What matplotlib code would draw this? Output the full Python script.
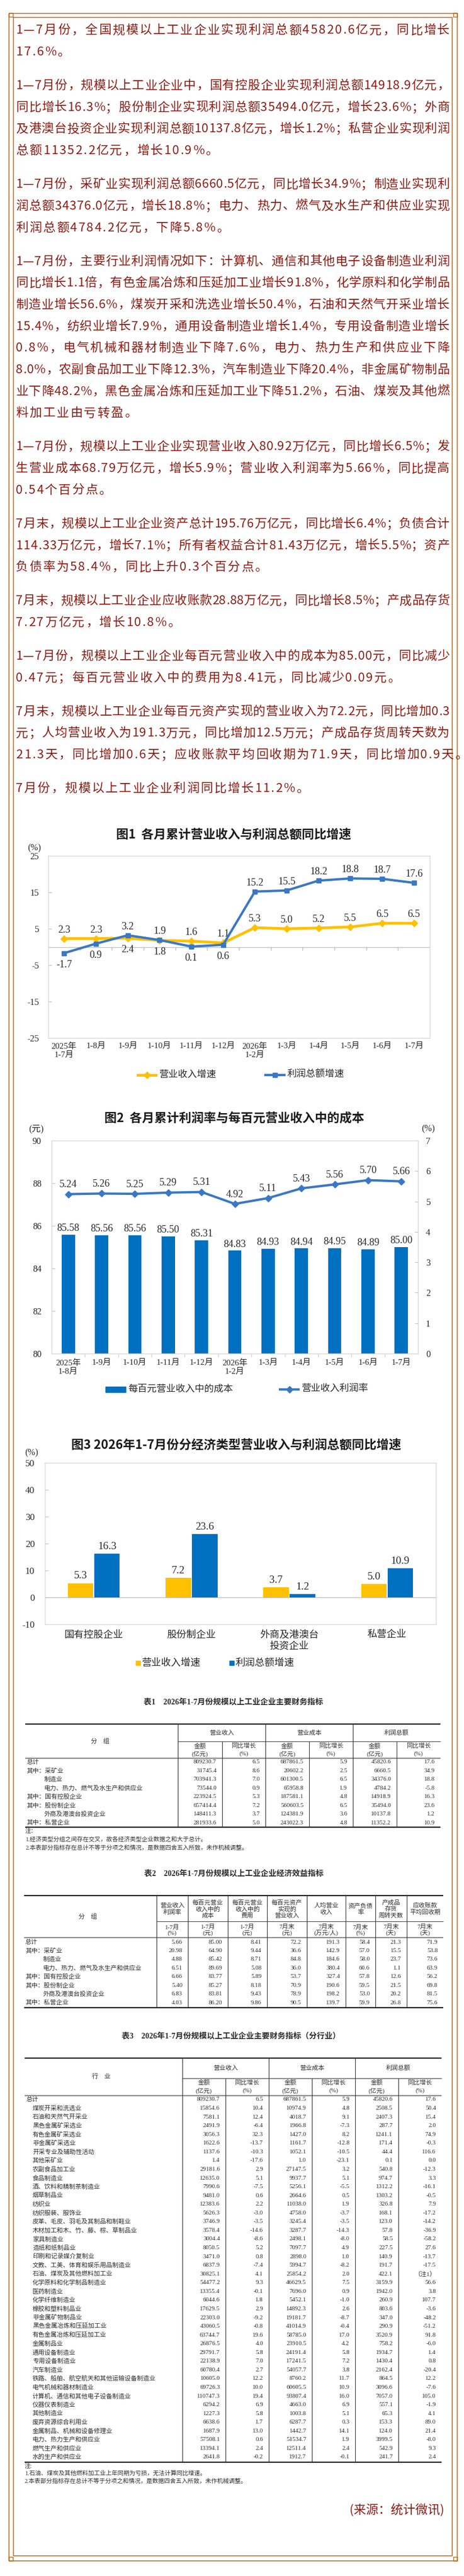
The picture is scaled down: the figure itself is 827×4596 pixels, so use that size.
import numpy as np
import matplotlib
matplotlib.use('Agg')
import matplotlib.pyplot as plt
from matplotlib import font_manager as fm
from matplotlib.font_manager import FontProperties
from matplotlib.patches import Rectangle

W, H, DPI = 827, 4596, 100
PT = 72 / DPI  # points per pixel

SERIF = ['Liberation Serif', 'Noto Sans CJK SC', 'DejaVu Sans']
CJK = ['Noto Sans CJK SC', 'DejaVu Sans']
plt.rcParams['font.family'] = SERIF
plt.rcParams['axes.unicode_minus'] = False

TXT_C = '#8C1C13'
FRAME_C = '#B8671F'
YEL = '#FFC000'
BLU = '#0070C0'
BLU_L = '#3A78C3'
BOX_C = '#D9D9D9'
AX_C = '#BFBFBF'
LBL_C = '#262626'
TBL_C = '#2b2b2b'

# ---------------- article text ----------------
paragraphs = [
    ["1—7月份，全国规模以上工业企业实现利润总额45820.6亿元，同比增长",
     "17.6%。"],
    ["1—7月份，规模以上工业企业中，国有控股企业实现利润总额14918.9亿元，",
     "同比增长16.3%；股份制企业实现利润总额35494.0亿元，增长23.6%；外商",
     "及港澳台投资企业实现利润总额10137.8亿元，增长1.2%；私营企业实现利润",
     "总额11352.2亿元，增长10.9%。"],
    ["1—7月份，采矿业实现利润总额6660.5亿元，同比增长34.9%；制造业实现利",
     "润总额34376.0亿元，增长18.8%；电力、热力、燃气及水生产和供应业实现",
     "利润总额4784.2亿元，下降5.8%。"],
    ["1—7月份，主要行业利润情况如下：计算机、通信和其他电子设备制造业利润",
     "同比增长1.1倍，有色金属冶炼和压延加工业增长91.8%，化学原料和化学制品",
     "制造业增长56.6%，煤炭开采和洗选业增长50.4%，石油和天然气开采业增长",
     "15.4%，纺织业增长7.9%，通用设备制造业增长1.4%，专用设备制造业增长",
     "0.8%，电气机械和器材制造业下降7.6%，电力、热力生产和供应业下降",
     "8.0%，农副食品加工业下降12.3%，汽车制造业下降20.4%，非金属矿物制品",
     "业下降48.2%，黑色金属冶炼和压延加工业下降51.2%，石油、煤炭及其他燃",
     "料加工业由亏转盈。"],
    ["1—7月份，规模以上工业企业实现营业收入80.92万亿元，同比增长6.5%；发",
     "生营业成本68.79万亿元，增长5.9%；营业收入利润率为5.66%，同比提高",
     "0.54个百分点。"],
    ["7月末，规模以上工业企业资产总计195.76万亿元，同比增长6.4%；负债合计",
     "114.33万亿元，增长7.1%；所有者权益合计81.43万亿元，增长5.5%；资产",
     "负债率为58.4%，同比上升0.3个百分点。"],
    ["7月末，规模以上工业企业应收账款28.88万亿元，同比增长8.5%；产成品存货",
     "7.27万亿元，增长10.8%。"],
    ["1—7月份，规模以上工业企业每百元营业收入中的成本为85.00元，同比减少",
     "0.47元；每百元营业收入中的费用为8.41元，同比减少0.09元。"],
    ["7月末，规模以上工业企业每百元资产实现的营业收入为72.2元，同比增加0.3",
     "元；人均营业收入为191.3万元，同比增加12.5万元；产成品存货周转天数为",
     "21.3天，同比增加0.6天；应收账款平均回收期为71.9天，同比增加0.9天。"],
    ["7月份，规模以上工业企业利润同比增长11.2%。"],
]
source_text = "(来源：统计微讯)"

# ---------------- chart 1 ----------------
chart1_title = "图1  各月累计营业收入与利润总额同比增速"
months1 = ['2025年\n1-7月', '1-8月', '1-9月', '1-10月', '1-11月', '1-12月',
           '2026年\n1-2月', '1-3月', '1-4月', '1-5月', '1-6月', '1-7月']
rev_growth = [2.3, 2.3, 2.4, 1.8, 1.6, 1.1, 5.3, 5.0, 5.2, 5.5, 6.5, 6.5]
profit_growth = [-1.7, 0.9, 3.2, 1.9, 0.1, 0.6, 15.2, 15.5, 18.2, 18.8, 18.7, 17.6]
legend1 = ['营业收入增速', '利润总额增速']

# ---------------- chart 2 ----------------
chart2_title = "图2  各月累计利润率与每百元营业收入中的成本"
months2 = ['2025年\n1-8月', '1-9月', '1-10月', '1-11月', '1-12月', '2026年\n1-2月',
           '1-3月', '1-4月', '1-5月', '1-6月', '1-7月']
cost_per_100 = [85.58, 85.56, 85.56, 85.50, 85.31, 84.83, 84.93, 84.94, 84.95, 84.89, 85.00]
profit_margin = [5.24, 5.26, 5.25, 5.29, 5.31, 4.92, 5.11, 5.43, 5.56, 5.70, 5.66]
legend2 = ['每百元营业收入中的成本', '营业收入利润率']

# ---------------- chart 3 ----------------
chart3_title = "图3 2026年1-7月份分经济类型营业收入与利润总额同比增速"
types3 = ['国有控股企业', '股份制企业', '外商及港澳台\n投资企业', '私营企业']
rev3 = [5.3, 7.2, 3.7, 5.0]
profit3 = [16.3, 23.6, 1.2, 10.9]

# ---------------- table 1 ----------------
t1_title = "表1    2026年1-7月份规模以上工业企业主要财务指标"
t1_groups = ['营业收入', '营业成本', '利润总额']
t1_names = ['总计', '其中：采矿业', '制造业', '电力、热力、燃气及水生产和供应业',
            '其中：国有控股企业', '其中：股份制企业', '外商及港澳台投资企业', '其中：私营企业']
t1_rev = [809230.7, 31745.4, 703941.3, 73544.0, 223924.5, 657414.4, 148411.3, 281933.6]
t1_rev_g = [6.5, 8.6, 7.0, 0.9, 5.3, 7.2, 3.7, 5.0]
t1_cost = [687861.5, 20602.2, 601300.5, 65958.8, 187581.1, 560603.5, 124381.9, 243022.3]
t1_cost_g = [5.9, 2.5, 6.5, 1.9, 4.8, 6.5, 3.6, 4.8]
t1_profit = [45820.6, 6660.5, 34376.0, 4784.2, 14918.9, 35494.0, 10137.8, 11352.2]
t1_profit_g = [17.6, 34.9, 18.8, -5.8, 16.3, 23.6, 1.2, 10.9]
t1_notes = ["注：", "1.经济类型分组之间存在交叉，故各经济类型企业数据之和大于总计。",
            "2.本表部分指标存在总计不等于分项之和情况，是数据四舍五入所致，未作机械调整。"]

# ---------------- table 2 ----------------
t2_title = "表2    2026年1-7月份规模以上工业企业经济效益指标"
t2_heads = ['营业收入\n利润率', '每百元营业\n收入中的\n成本', '每百元营业\n收入中的\n费用',
            '每百元资产\n实现的\n营业收入', '人均营业\n收入', '资产负债\n率',
            '产成品\n存货\n周转天数', '应收账款\n平均回收期']
t2_units = ['1-7月\n(%)', '1-7月\n(元)', '1-7月\n(元)', '7月末\n(元)', '7月末\n(万元/人)',
            '7月末\n(%)', '7月末\n(天)', '7月末\n(天)']
t2_names = t1_names
t2_margin = [5.66, 20.98, 4.88, 6.51, 6.66, 5.40, 6.83, 4.03]
t2_cost100 = [85.00, 64.90, 85.42, 89.69, 83.77, 85.27, 83.81, 86.20]
t2_exp100 = [8.41, 9.44, 8.71, 5.08, 5.89, 8.18, 9.43, 9.86]
t2_rev_asset = [72.2, 36.6, 84.8, 36.0, 53.7, 70.9, 78.9, 90.5]
t2_rev_person = [191.3, 142.9, 184.6, 380.4, 327.4, 190.6, 198.2, 139.7]
t2_debt = [58.4, 57.0, 58.0, 60.6, 57.8, 59.5, 53.0, 59.9]
t2_inv_days = [21.3, 15.5, 23.7, 1.1, 12.6, 21.5, 20.2, 26.8]
t2_ar_days = [71.9, 53.8, 73.6, 63.9, 56.2, 69.8, 81.5, 75.6]

# ---------------- table 3 ----------------
t3_title = "表3    2026年1-7月份规模以上工业企业主要财务指标（分行业）"
t3_names = ['总计', '煤炭开采和洗选业', '石油和天然气开采业', '黑色金属矿采选业', '有色金属矿采选业',
            '非金属矿采选业', '开采专业及辅助性活动', '其他采矿业', '农副食品加工业', '食品制造业',
            '酒、饮料和精制茶制造业', '烟草制品业', '纺织业', '纺织服装、服饰业',
            '皮革、毛皮、羽毛及其制品和制鞋业', '木材加工和木、竹、藤、棕、草制品业', '家具制造业',
            '造纸和纸制品业', '印刷和记录媒介复制业', '文教、工美、体育和娱乐用品制造业',
            '石油、煤炭及其他燃料加工业', '化学原料和化学制品制造业', '医药制造业', '化学纤维制造业',
            '橡胶和塑料制品业', '非金属矿物制品业', '黑色金属冶炼和压延加工业', '有色金属冶炼和压延加工业',
            '金属制品业', '通用设备制造业', '专用设备制造业', '汽车制造业',
            '铁路、船舶、航空航天和其他运输设备制造业', '电气机械和器材制造业',
            '计算机、通信和其他电子设备制造业', '仪器仪表制造业', '其他制造业', '废弃资源综合利用业',
            '金属制品、机械和设备修理业', '电力、热力生产和供应业', '燃气生产和供应业', '水的生产和供应业']
t3_rev = [809230.7, 15854.6, 7581.1, 2491.9, 3056.3, 1622.6, 1137.6, 1.4, 29181.6, 12635.0,
          7990.6, 9481.0, 12383.6, 5626.3, 3746.9, 3578.4, 3004.4, 8050.5, 3471.0, 6837.9,
          30825.1, 54477.2, 13355.4, 6044.6, 17629.5, 22303.0, 43060.5, 63744.7, 26876.5, 29791.7,
          22138.9, 60780.4, 10605.0, 69726.3, 110747.3, 6294.2, 1227.3, 6638.6, 1687.9, 57508.1,
          13394.1, 2641.8]
t3_rev_g = [6.5, 10.4, 12.4, -6.4, 32.3, -13.7, -10.3, -17.6, 2.9, 5.1, -7.5, 0.6, 2.2, -3.0,
            -3.5, -14.6, -8.6, 5.2, 0.8, -7.4, 4.1, 9.3, -0.1, 1.8, 2.9, -9.2, -0.8, 19.6, 4.0,
            5.8, 7.0, 2.7, 12.2, 10.0, 19.4, 6.9, 5.8, 1.7, 13.0, 0.6, 2.4, -0.2]
t3_cost = [687861.5, 10974.9, 4018.7, 1966.8, 1427.0, 1161.7, 1052.1, 1.0, 27147.5, 9937.7,
           5256.1, 2664.6, 11038.0, 4758.0, 3245.4, 3287.7, 2498.1, 7097.7, 2898.0, 5994.7,
           25854.2, 46629.5, 7696.0, 5452.1, 14892.3, 19181.7, 41014.9, 58785.0, 23910.5, 24191.4,
           17241.5, 54057.7, 8760.2, 60605.5, 93807.4, 4663.0, 1003.8, 6287.7, 1442.7, 51534.7,
           12511.4, 1912.7]
t3_cost_g = [5.9, 4.8, 9.1, -7.3, 8.2, -12.8, -10.5, -23.1, 3.2, 5.1, -5.5, 0.5, 1.9, -3.7,
             -3.5, -14.3, -8.0, 4.9, 1.0, -8.2, 2.0, 7.5, 0.9, -1.0, 2.6, -8.7, -0.4, 17.0, 4.2,
             5.8, 7.2, 3.8, 11.7, 10.9, 16.0, 6.9, 5.1, 0.3, 14.1, 1.9, 2.4, -0.1]
t3_profit = [45820.6, 2508.5, 2407.3, 287.7, 1241.1, 171.4, 44.4, 0.1, 540.8, 974.7, 1312.2,
             1303.2, 326.8, 168.1, 123.0, 57.8, 58.5, 227.5, 140.9, 191.7, 422.1, 3159.9, 1942.0,
             260.9, 803.6, 347.0, 290.9, 3520.9, 758.2, 1934.7, 1430.4, 2162.4, 864.5, 3096.6,
             7057.0, 557.1, 65.3, 153.3, 124.0, 3999.5, 542.9, 241.7]
t3_profit_g = [17.6, 50.4, 15.4, 2.0, 74.9, -0.3, 116.6, 0.0, -12.3, 3.3, -16.1, -0.5, 7.9,
               -17.2, -14.2, -36.9, -58.2, 27.6, -13.7, -17.5, None, 56.6, 3.8, 107.7, -3.6,
               -48.2, -51.2, 91.8, -6.0, 1.4, 0.8, -20.4, 12.2, -7.6, 105.0, -1.9, 4.1, 89.0,
               21.4, -8.0, 9.3, 2.4]
t3_notes = ["注:", "1.石油、煤炭及其他燃料加工业上年同期为亏损，无法计算同比增速。",
            "2.本表部分指标存在总计不等于分项之和情况，是数据四舍五入所致，未作机械调整。"]

# ================= drawing =================
fig = plt.figure(figsize=(W / DPI, H / DPI), dpi=DPI)
fig.patch.set_facecolor('white')
bg = fig.add_axes([0, 0, 1, 1])
bg.set_xlim(0, W)
bg.set_ylim(H, 0)
bg.set_autoscale_on(False)
bg.axis('off')


def px_axes(x0, y0, x1, y1):
    return fig.add_axes([x0 / W, 1 - y1 / H, (x1 - x0) / W, (y1 - y0) / H])


def seg(xs, ys, c, lw):
    bg.plot(xs, ys, color=c, lw=lw, solid_capstyle='butt')


# frame
for (x0, y0, x1, y1) in [(16, 24, 815, 4569), (24, 31, 806, 4560)]:
    seg([x0, x1, x1, x0, x0], [y0, y0, y1, y1, y0], FRAME_C, 1.1)
for cx, cy in [(16, 23), (808, 23), (16, 4562), (808, 4562)]:
    bg.add_patch(Rectangle((cx, cy), 7, 7, fill=False, ec=FRAME_C, lw=1.0))

# ---- paragraphs, justified char by char
BODY_PX = 22
fp_body = FontProperties(family=CJK, size=BODY_PX * PT)
ft = fm.get_font(fm.findfont(FontProperties(family='Noto Sans CJK SC')))
ft.set_size(BODY_PX * PT, DPI)
adv_cache = {}


def raw_metrics(ch):
    g = ft.load_char(ord(ch))
    return g.horiAdvance / 64.0, g.horiBearingX / 64.0


# a CJK ideograph is exactly 1 em wide: use it to calibrate the font units
em_scale = BODY_PX / raw_metrics('中')[0]


def glyph_metrics(ch):
    if ch not in adv_cache:
        a, b = raw_metrics(ch)
        adv_cache[ch] = (a * em_scale, b * em_scale)
    return adv_cache[ch]


TXT_X0, TXT_X1 = 28, 801
y_line, pitch, pgap = 52, 38.7, 21.3
li = 0
for pi, para in enumerate(paragraphs):
    for k, line in enumerate(para):
        yc = y_line + li * pitch + pi * pgap
        mets = [glyph_metrics(c) for c in line]
        total = sum(m[0] for m in mets)
        if k == len(para) - 1:
            gap = 2.2
        else:
            gap = (TXT_X1 - TXT_X0 - total) / (len(line) - 1)
        x = TXT_X0
        for c, (adv, lsb) in zip(line, mets):
            bg.text(x + lsb, yc + 0.38 * BODY_PX, c, fontproperties=fp_body,
                    color=TXT_C, ha='left', va='baseline')
            x += adv + gap
        li += 1

bg.text(792, 4479, source_text, fontproperties=fp_body, color=TXT_C,
        ha='right', va='center')


def style_axes(ax):
    ax.set_facecolor('white')
    for s in ax.spines.values():
        s.set_color(BOX_C)
        s.set_linewidth(1.0)


# ================= chart 1 =================
bg.text(416, 1489, chart1_title, family=CJK, fontsize=22 * PT, weight='bold',
        color='#1a1a1a', ha='center', va='center')
bg.text(61, 1513, '(%)', fontsize=16 * PT, color=LBL_C, ha='center', va='center')
ax1 = px_axes(86, 1527, 766, 1852)
style_axes(ax1)
x1 = np.arange(len(months1))
ax1.axhline(0, color=AX_C, lw=1.0, zorder=1)
for b in x1[:-1] + 0.5:
    ax1.plot([b, b], [0, -0.8], color=AX_C, lw=1.0, zorder=1)
ax1.plot(x1, rev_growth, color=YEL, lw=3.5, marker='D', ms=6.5, zorder=3)
ax1.plot(x1, profit_growth, color=BLU_L, lw=3.0, marker='s', ms=6, zorder=4)
ax1.set_xlim(-0.5, len(months1) - 0.5)
ax1.set_ylim(-25, 25)
ax1.set_yticks([-25, -15, -5, 5, 15, 25])
ax1.set_xticks(x1)
ax1.set_xticklabels(months1, fontsize=15 * PT, color=LBL_C, linespacing=1.2)
ax1.tick_params(axis='x', length=0, pad=6)
ax1.tick_params(axis='y', direction='in', length=4, color=AX_C, pad=12,
                labelsize=16 * PT, labelcolor=LBL_C)
for i in x1:
    r, p = rev_growth[i], profit_growth[i]
    for v, other in [(r, p), (p, r)]:
        up = v >= other or abs(v - other) > 5
        ax1.annotate(f'{v:.1f}', (i, v), xytext=(0, 5 if up else -9),
                     textcoords='offset points', ha='center',
                     va='bottom' if up else 'top', fontsize=18 * PT, color=LBL_C)
# legend 1
seg([243, 280], [1918, 1918], YEL, 3.5)
bg.plot([261.5], [1918], marker='D', ms=6.5, color=YEL)
bg.text(284, 1918, legend1[0], fontsize=17 * PT, color=LBL_C, va='center')
seg([471, 509], [1918, 1918], BLU_L, 3.0)
bg.plot([490], [1918], marker='s', ms=6, color=BLU_L)
bg.text(512, 1918, legend1[1], fontsize=17 * PT, color=LBL_C, va='center')

# ================= chart 2 =================
bg.text(418, 1995, chart2_title, family=CJK, fontsize=22 * PT, weight='bold',
        color='#1a1a1a', ha='center', va='center')
bg.text(65, 2014, '(元)', fontsize=16 * PT, color=LBL_C, ha='center', va='center')
bg.text(763, 2014, '(%)', fontsize=16 * PT, color=LBL_C, ha='center', va='center')
ax2 = px_axes(92, 2035, 745, 2415)
style_axes(ax2)
x2 = np.arange(len(months2))
ax2.bar(x2, cost_per_100, 0.4, color=BLU, zorder=2)
ax2.set_xlim(-0.5, len(months2) - 0.5)
ax2.set_ylim(80, 90)
ax2.set_yticks(range(80, 91, 2))
ax2.set_xticks(x2)
ax2.set_xticklabels(months2, fontsize=15 * PT, color=LBL_C, linespacing=1.2)
ax2.set_xticks(x2[:-1] + 0.5, minor=True)
ax2.tick_params(axis='x', which='major', length=0, pad=7)
ax2.tick_params(axis='x', which='minor', length=4, color=AX_C, direction='out')
ax2.tick_params(axis='y', direction='in', length=4, color=AX_C, pad=13,
                labelsize=16 * PT, labelcolor=LBL_C)
for i, v in enumerate(cost_per_100):
    ax2.annotate(f'{v:.2f}', (i, v), xytext=(0, 2), textcoords='offset points',
                 ha='center', va='bottom', fontsize=18 * PT, color=LBL_C)
ax2r = ax2.twinx()
ax2r.plot(x2, profit_margin, color=BLU_L, lw=3.0, marker='D', ms=6.5, zorder=4)
ax2r.set_ylim(0, 7)
ax2r.set_yticks(range(0, 8))
ax2r.tick_params(axis='y', direction='in', length=4, color=AX_C, pad=10,
                 labelsize=16 * PT, labelcolor=LBL_C)
for s in ax2r.spines.values():
    s.set_color(BOX_C)
for i, v in enumerate(profit_margin):
    ax2r.annotate(f'{v:.2f}', (i, v), xytext=(0, 6), textcoords='offset points',
                  ha='center', va='bottom', fontsize=18 * PT, color=LBL_C)
# legend 2
bg.add_patch(Rectangle((188, 2474), 36, 10, color=BLU))
bg.text(228, 2479, legend2[0], fontsize=17 * PT, color=LBL_C, va='center')
seg([497, 534], [2479, 2479], BLU_L, 3.0)
bg.plot([515.5], [2479], marker='D', ms=6, color=BLU_L)
bg.text(538, 2479, legend2[1], fontsize=17 * PT, color=LBL_C, va='center')

# ================= chart 3 =================
bg.text(421, 2578, chart3_title, family=CJK, fontsize=22 * PT, weight='bold',
        color='#1a1a1a', ha='center', va='center')
bg.text(56, 2592, '(%)', fontsize=16 * PT, color=LBL_C, ha='center', va='center')
ax3 = px_axes(80, 2610, 777, 2898)
style_axes(ax3)
x3 = np.arange(len(types3))
bw = 0.26
ax3.axhline(0, color=AX_C, lw=1.0, zorder=1)
ax3.bar(x3 - 0.135, rev3, bw, color=YEL, zorder=2)
ax3.bar(x3 + 0.135, profit3, bw, color=BLU, zorder=2)
ax3.set_xlim(-0.5, len(types3) - 0.5)
ax3.set_ylim(-10, 50)
ax3.set_yticks(range(-10, 51, 10))
ax3.set_xticks(x3)
ax3.set_xticklabels(types3, fontsize=17.5 * PT, color=LBL_C, linespacing=1.25)
ax3.tick_params(axis='x', length=0, pad=8)
ax3.tick_params(axis='y', direction='in', length=4, color=AX_C, pad=13,
                labelsize=17 * PT, labelcolor=LBL_C)
for i in x3:
    for off, v in [(-0.135, rev3[i]), (0.135, profit3[i])]:
        ax3.annotate(f'{v:.1f}', (i + off, v), xytext=(0, 3), textcoords='offset points',
                     ha='center', va='bottom', fontsize=19 * PT, color=LBL_C)
bg.plot([246], [2967], marker='s', ms=5.5, color=YEL, ls='none')
bg.text(253, 2967, legend1[0], fontsize=17.5 * PT, color=LBL_C, va='center')
bg.plot([413], [2967], marker='s', ms=5.5, color=BLU, ls='none')
bg.text(420, 2967, legend1[1], fontsize=17.5 * PT, color=LBL_C, va='center')

# ================= tables =================
TFS = 11 * PT


def tx(x, y, s, ha='left', size=TFS, **kw):
    bg.text(x, y, s, ha=ha, va='center', fontsize=size, color=TBL_C, **kw)


def is_indented(name):
    return not (name.startswith('其中') or name == '总计')


def fmt(v, nd):
    if v is None:
        return '（注1）'
    return f'{v:.{nd}f}'


def table_rows(names, cols, series, decimals, y0, dy, xl, xi, indent_rule=True):
    for r, name in enumerate(names):
        y = y0 + r * dy
        if indent_rule:
            tx(xi if is_indented(name) else xl, y, name)
        else:
            tx(xl if r == 0 else xi, y, name)
        for j, (vals, nd) in enumerate(zip(series, decimals)):
            tx(cols[j + 1] - 10, y, fmt(vals[r], nd), ha='right')


# ---- table 1
tx(416, 3037, t1_title, ha='center', size=14 * PT, weight='bold')
c1 = [317, 396, 473, 551, 629, 707, 785]
seg([45, 785], [3076, 3076], '#222222', 1.6)
for g, name in enumerate(t1_groups):
    tx((c1[2 * g] + c1[2 * g + 2]) / 2, 3092, name, ha='center')
seg([317, 785], [3107, 3107], '#444444', 0.8)
for j in range(6):
    xc = (c1[j] + c1[j + 1]) / 2
    tx(xc, 3115, '金额' if j % 2 == 0 else '同比增长', ha='center')
    tx(xc, 3129, '(亿元)' if j % 2 == 0 else '(%)', ha='center')
tx(178, 3107, '分    组', ha='center')
seg([45, 785], [3137, 3137], '#8c8c8c', 1.6)
for xv in [317, 473, 629]:
    seg([xv, xv], [3076, 3260], '#333333', 0.8)
for xv in [396, 551, 707]:
    seg([xv, xv], [3107, 3260], '#333333', 0.8)
table_rows(t1_names, c1, [t1_rev, t1_rev_g, t1_cost, t1_cost_g, t1_profit, t1_profit_g],
           [1] * 6, 3144, 15.45, 48, 79)
seg([45, 785], [3260, 3260], '#222222', 1.6)
for k, (s, y) in enumerate(zip(t1_notes, [3268, 3282, 3297])):
    tx(45, y, s, size=10.5 * PT)

# ---- table 2
tx(417, 3343, t2_title, ha='center', size=14 * PT, weight='bold')
c2 = [279, 335, 406, 476, 547, 616, 669, 725, 790]
seg([43, 790], [3382, 3382], '#222222', 1.6)
for j, (hd, un) in enumerate(zip(t2_heads, t2_units)):
    xc = (c2[j] + c2[j + 1]) / 2
    tx(xc, 3406, hd, ha='center', linespacing=1.15)
    tx(xc, 3443.5, un, ha='center', linespacing=1.05)
seg([279, 790], [3428, 3428], '#444444', 0.8)
tx(157, 3420, '分    组', ha='center')
seg([43, 790], [3457, 3457], '#8c8c8c', 1.6)
for xv in c2[:-1]:
    seg([xv, xv], [3382, 3582], '#333333', 0.8)
table_rows(t2_names, c2, [t2_margin, t2_cost100, t2_exp100, t2_rev_asset, t2_rev_person,
                          t2_debt, t2_inv_days, t2_ar_days],
           [2, 2, 2, 1, 1, 1, 1, 1], 3465, 15.45, 45, 77)
seg([43, 790], [3582, 3582], '#222222', 1.6)

# ---- table 3
tx(412, 3633, t3_title, ha='center', size=14 * PT, weight='bold')
c3 = [325, 402, 479, 556, 633, 710, 787]
seg([44, 787], [3672, 3672], '#222222', 1.6)
for g, name in enumerate(t1_groups):
    tx((c3[2 * g] + c3[2 * g + 2]) / 2, 3690, name, ha='center')
seg([325, 787], [3708, 3708], '#444444', 0.8)
for j in range(6):
    xc = (c3[j] + c3[j + 1]) / 2
    tx(xc, 3716, '金额' if j % 2 == 0 else '同比增长', ha='center')
    tx(xc, 3730, '(亿元)' if j % 2 == 0 else '(%)', ha='center')
tx(181, 3705, '行    业', ha='center')
seg([44, 787], [3739, 3739], '#8c8c8c', 1.6)
for xv in [325, 479, 633]:
    seg([xv, xv], [3672, 4393], '#333333', 0.8)
for xv in [402, 556, 710]:
    seg([xv, xv], [3708, 4393], '#333333', 0.8)
table_rows(t3_names, c3, [t3_rev, t3_rev_g, t3_cost, t3_cost_g, t3_profit, t3_profit_g],
           [1] * 6, 3746, 15.56, 47, 58, indent_rule=False)
seg([44, 787], [4393, 4393], '#222222', 1.6)
for s, y in zip(t3_notes, [4401, 4413, 4427]):
    tx(44, y, s, size=10.5 * PT)

fig.savefig('out.png', dpi=DPI, facecolor='white')
